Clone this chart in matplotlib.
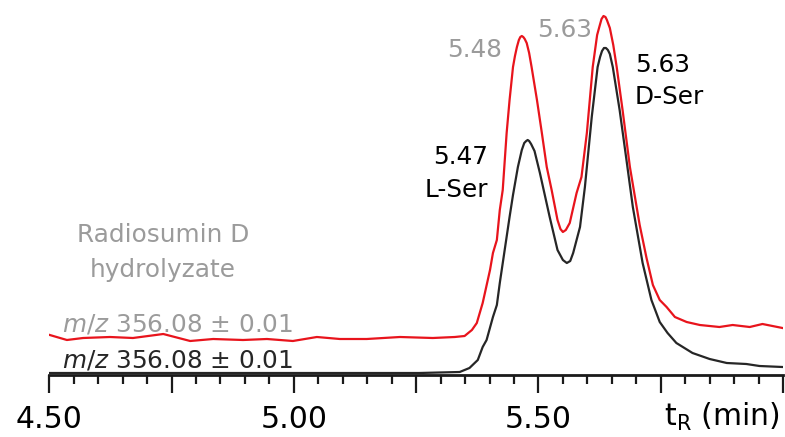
import matplotlib
matplotlib.use("Agg")
import matplotlib.pyplot as plt
from matplotlib.ticker import MultipleLocator, FixedLocator

plt.rcParams['font.family'] = ['DejaVu Sans']
plt.rcParams['mathtext.fontset'] = 'dejavusans'

# ---- data (retention time in min, intensity in arbitrary units) ----
red_t = [4.501, 4.536, 4.569, 4.624, 4.671, 4.733, 4.788, 4.835, 4.896, 4.945,
         4.998, 5.047, 5.094, 5.149, 5.217, 5.284, 5.329, 5.349, 5.364, 5.374,
         5.386, 5.401, 5.407, 5.415, 5.421, 5.427, 5.435, 5.441, 5.448, 5.452,
         5.456, 5.460, 5.463, 5.466, 5.469, 5.472, 5.476, 5.481, 5.486, 5.497,
         5.507, 5.517, 5.527, 5.539, 5.545, 5.550, 5.556, 5.564, 5.578, 5.588,
         5.599, 5.611, 5.620, 5.625, 5.629, 5.633, 5.637, 5.640, 5.646, 5.653,
         5.660, 5.672, 5.687, 5.707, 5.721, 5.734, 5.748, 5.762, 5.779, 5.803,
         5.830, 5.870, 5.897, 5.932, 5.958, 5.999]
red_i = [40, 35, 37, 38, 37, 41, 34, 36, 35, 36,
         34, 38, 36, 36, 38, 37, 38, 39, 45, 52,
         72, 105, 122, 135, 165, 185, 242, 275, 308, 319,
         328, 335, 338, 339, 338, 336, 332, 322, 308, 275,
         242, 208, 185, 155, 146, 143, 145, 152, 182, 198,
         242, 308, 340, 349, 356, 359, 358, 355, 347, 330,
         308, 265, 208, 150, 117, 90, 75, 68, 58, 53,
         50, 48, 50, 48, 51, 47]

black_t = [4.500, 4.705, 4.909, 5.113, 5.256, 5.339, 5.359, 5.376, 5.386, 5.394,
           5.407, 5.415, 5.421, 5.431, 5.441, 5.448, 5.458, 5.466, 5.471, 5.475,
           5.478, 5.481, 5.485, 5.492, 5.503, 5.513, 5.523, 5.539, 5.550, 5.558,
           5.565, 5.571, 5.585, 5.595, 5.609, 5.621, 5.626, 5.630, 5.634, 5.638,
           5.642, 5.646, 5.652, 5.666, 5.680, 5.693, 5.703, 5.713, 5.731, 5.748,
           5.764, 5.782, 5.815, 5.850, 5.885, 5.925, 5.952, 5.999]
black_i = [2, 2, 2, 2, 2, 3, 7, 15, 28, 35,
           58, 70, 92, 125, 158, 180, 208, 225, 232, 234,
           235, 234, 231, 224, 202, 180, 158, 125, 115, 112,
           114, 122, 148, 188, 258, 308, 318, 324, 327, 327,
           325, 321, 308, 265, 215, 168, 140, 112, 75, 53,
           42, 32, 22, 16, 12, 11, 9, 8]

major_ticks = [4.50, 4.75, 5.00, 5.25, 5.50, 5.75, 6.00]
tick_labels = ["4.50", "", "5.00", "", "5.50", "", ""]

# ---- figure ----
W, H = 785, 437
fig = plt.figure(figsize=(W / 100, H / 100), dpi=100)
ax_left, ax_right, ax_bottom, ax_top = 49.3, 783.0, 375.0, 8.0
ax = fig.add_axes([ax_left / W, (H - ax_bottom) / H,
                   (ax_right - ax_left) / W, (ax_bottom - ax_top) / H])

red_c = '#e8141c'
black_c = '#262626'
gray_c = '#9b9b9b'

ax.plot(red_t, red_i, color=red_c, lw=1.6, solid_joinstyle='round', zorder=3)
ax.plot(black_t, black_i, color=black_c, lw=1.6, solid_joinstyle='round', zorder=4)

ax.set_xlim(4.50, 6.00)
ax.set_ylim(0, ax_bottom - ax_top)

for s in ['top', 'right', 'left']:
    ax.spines[s].set_visible(False)
ax.spines['bottom'].set_linewidth(2.0)
ax.spines['bottom'].set_color('#1a1a1a')
ax.set_yticks([])

ax.xaxis.set_major_locator(FixedLocator(major_ticks))
ax.set_xticklabels(tick_labels)
ax.xaxis.set_minor_locator(MultipleLocator(0.05))
ax.tick_params(axis='x', which='major', direction='out', length=13, width=1.6,
               color='#1a1a1a', labelsize=21.5, pad=8.5)
ax.tick_params(axis='x', which='minor', direction='out', length=6.5, width=1.6,
               color='#1a1a1a')

# ---- annotations ----
fs = 17.8
ax.text(5.370, 325, "5.48", color=gray_c, fontsize=fs, ha='center', va='center')
ax.text(5.554, 345, "5.63", color=gray_c, fontsize=fs, ha='center', va='center')
ax.text(5.397, 218, "5.47", color='black', fontsize=fs, ha='right', va='center')
ax.text(5.397, 185, "L-Ser", color='black', fontsize=fs, ha='right', va='center')
ax.text(5.697, 310, "5.63", color='black', fontsize=fs, ha='left', va='center')
ax.text(5.697, 278, "D-Ser", color='black', fontsize=fs, ha='left', va='center')
ax.text(4.732, 140, "Radiosumin D", color=gray_c, fontsize=fs, ha='center', va='center')
ax.text(4.732, 105, "hydrolyzate", color=gray_c, fontsize=fs, ha='center', va='center')
ax.text(4.526, 44, r"$\mathit{m/z}$ 356.08 ± 0.01", color=gray_c, fontsize=fs,
        ha='left', va='baseline')
ax.text(4.526, 7, r"$\mathit{m/z}$ 356.08 ± 0.01", color=black_c, fontsize=fs,
        ha='left', va='baseline')

fig.text(780 / W, 1 - 417 / H, r"t$_\mathregular{R}$ (min)", fontsize=21.5,
         ha='right', va='center', color='black')

fig.savefig("out.png", dpi=100)
